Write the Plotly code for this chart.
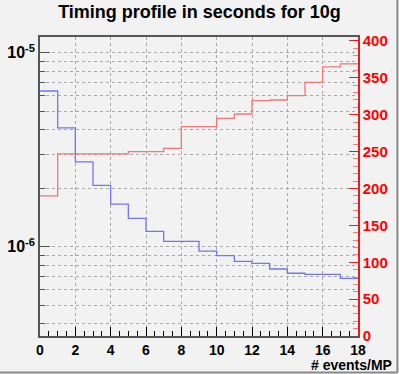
import plotly.graph_objects as go

# bin edges for # events/MP
bin_edges = [0, 1, 2, 3, 4, 5, 6, 7, 8, 9, 10, 11, 12, 13, 14, 15, 16, 17, 18]

# time per event (s), log scale, left axis
time_per_event = [6.35e-6, 4.1e-6, 2.74e-6, 2.07e-6, 1.66e-6, 1.40e-6, 1.20e-6,
                  1.067e-6, 1.067e-6, 9.5e-7, 9.0e-7, 8.4e-7, 8.2e-7, 7.68e-7,
                  7.3e-7, 7.2e-7, 7.2e-7, 6.87e-7]

# total time (s), right axis
total_time = [190, 247, 247, 247, 247, 250, 250, 254.5, 284, 284, 295, 301,
              319, 320, 326, 344, 365, 369]

log_ticks = [4e-7, 5e-7, 6e-7, 7e-7, 8e-7, 9e-7, 1e-6, 2e-6, 3e-6, 4e-6,
             5e-6, 6e-6, 7e-6, 8e-6, 9e-6, 1e-5]
log_major = [1e-6, 1e-5]
log_labels = ["10<sup>-6</sup>", "10<sup>-5</sup>"]

x_ticks = [0, 2, 4, 6, 8, 10, 12, 14, 16, 18]
right_ticks = [0, 50, 100, 150, 200, 250, 300, 350, 400]

FONT = "Liberation Sans, Arial, Helvetica, sans-serif"
BG = "#f2f2f2"
GRID = "#a8a8a8"

fig = go.Figure()

# step histograms: repeat last value to close the final bin
fig.add_trace(go.Scatter(
    x=bin_edges, y=time_per_event + time_per_event[-1:],
    mode="lines", line=dict(shape="hv", color="#7474f4", width=1.3),
    showlegend=False, hoverinfo="skip"
))
fig.add_trace(go.Scatter(
    x=bin_edges, y=total_time + total_time[-1:],
    mode="lines", line=dict(shape="hv", color="#f07878", width=1.3),
    yaxis="y2", showlegend=False, hoverinfo="skip"
))

fig.update_layout(
    width=399, height=374,
    margin=dict(l=40, r=41, t=37, b=38, autoexpand=False),
    paper_bgcolor=BG, plot_bgcolor=BG,
    font=dict(family=FONT, color="black"),
    title=dict(text="Timing profile in seconds for 10g", x=0.5, xref="container",
               xanchor="center", y=1 - 12 / 374, yanchor="middle",
               font=dict(size=18, weight="bold", family=FONT)),
    xaxis=dict(
        range=[0, 18], tickvals=x_ticks, ticks="inside", ticklen=9,
        tickcolor="black", showline=True, linecolor="#555", linewidth=1.5,
        mirror=True, showgrid=True, gridcolor=GRID, griddash="dot",
        gridwidth=1, zeroline=False, automargin=False,
        tickfont=dict(size=14, weight="bold", family=FONT),
        minor=dict(dtick=0.5, ticks="inside", ticklen=5, tickcolor="black",
                   showgrid=False),
    ),
    yaxis=dict(
        type="log", range=[-6.46, -4.919], tickvals=log_major,
        ticktext=log_labels, ticks="inside", ticklen=10, tickcolor="#555",
        showline=True, linecolor="#555", linewidth=1.5, automargin=False,
        showgrid=True, gridcolor=GRID, griddash="dot", zeroline=False,
        tickfont=dict(size=16, weight="bold", family=FONT),
        minor=dict(tickvals=log_ticks, ticks="inside", ticklen=5,
                   tickcolor="#555", showgrid=True, gridcolor=GRID,
                   griddash="dot"),
    ),
    yaxis2=dict(
        overlaying="y", side="right", range=[0, 405.4], automargin=False,
        tickvals=right_ticks, ticks="inside", ticklen=9, tickcolor="#e02020",
        showline=True, linecolor="#e02020", linewidth=1.5, showgrid=False,
        zeroline=False, tickfont=dict(size=15, weight="bold", color="#ff0000",
                                      family=FONT),
        minor=dict(dtick=10, ticks="inside", ticklen=5, tickcolor="#f08080"),
    ),
    annotations=[dict(
        text="# events/MP", xref="paper", yref="paper", x=1.113, y=-0.097,
        xanchor="right", yanchor="middle", showarrow=False,
        font=dict(size=14, weight="bold", family=FONT),
    )],
    shapes=[
        dict(type="line", xref="paper", yref="paper", x0=-0.13, x1=1.124,
             y0=-0.122, y1=-0.122, line=dict(color="#8a8a8a", width=2)),
        dict(type="line", xref="paper", yref="paper", x0=1.124, x1=1.124,
             y0=-0.122, y1=1.14, line=dict(color="#8a8a8a", width=2)),
    ],
)

# drop the default page margin so the figure sits at the window's corner
fig.write_html("out.html", config={"displayModeBar": False},
               post_script="document.body.style.margin='0';")
